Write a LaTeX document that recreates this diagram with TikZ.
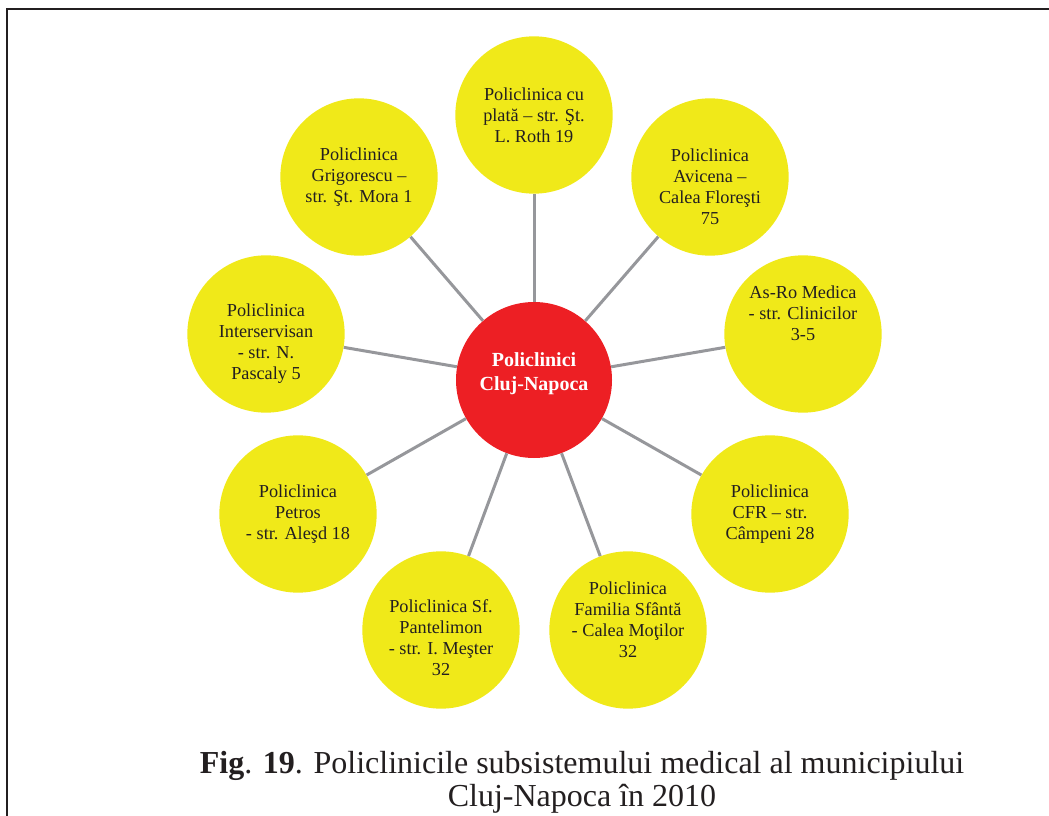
\documentclass[tikz,border=0pt]{standalone}
\usepackage{fontspec}
\setmainfont{Liberation Serif}
\usepackage{tikz}

\definecolor{clinicyellow}{RGB}{240,233,25}
\definecolor{hubred}{RGB}{237,31,36}
\definecolor{spokegray}{RGB}{150,151,155}
\definecolor{inkdark}{RGB}{35,31,32}

\begin{document}
\begin{tikzpicture}[x = 0.75pt, y = -0.75pt,
  clinic/.style = {circle, fill=clinicyellow, text=inkdark, minimum size=118pt, inner sep=0pt,
    align=center, font=\fontsize{13.7}{15.75}\selectfont},
  hub/.style = {circle, fill=hubred, text=white, minimum size=117pt, inner sep=0pt,
    align=center, font=\fontsize{15}{18}\selectfont\bfseries},
  spoke/.style = {draw=spokegray, line width=2.25pt}]

\useasboundingbox (0, 0) rectangle (1049, 816);

% frame, left and top only
\draw[line width=1.5pt, inkdark] (7, 816) -- (7, 9) -- (1049, 9);

\node[hub] (hub) at (534, 380) {Policlinici\\Cluj-Napoca\rule[-12pt]{0pt}{12pt}};

\node[clinic] (roth) at (534, 115) {Policlinica cu\\plată – str. Şt.\\L. Roth 19};
\node[clinic] (avicena) at (710, 177) {\rule{0pt}{23.5pt}Policlinica\\Avicena –\\Calea Floreşti\\75};
\node[clinic] (asro) at (803, 334) {As-Ro Medica\\- str. Clinicilor\\3-5\\\mbox{}\\\mbox{}};
\node[clinic] (cfr) at (770, 514) {Policlinica\\CFR – str.\\Câmpeni 28};
\node[clinic] (familia) at (628, 630) {Policlinica\\Familia Sfântă\\- Calea Moţilor\\32\\\mbox{}};
\node[clinic] (pantelimon) at (441, 630) {\rule{0pt}{20.5pt}Policlinica Sf.\\Pantelimon\\- str. I. Meşter\\32};
\node[clinic] (petros) at (298, 514) {Policlinica\\Petros\\- str. Aleşd 18};
\node[clinic] (interservisan) at (266, 334) {\rule{0pt}{24pt}Policlinica\\Interservisan\\- str. N.\\Pascaly 5};
\node[clinic] (grigorescu) at (359, 177) {Policlinica\\Grigorescu –\\str. Şt. Mora 1};

\draw[spoke] (hub) -- (roth);
\draw[spoke] (hub) -- (avicena);
\draw[spoke] (hub) -- (asro);
\draw[spoke] (hub) -- (cfr);
\draw[spoke] (hub) -- (familia);
\draw[spoke] (hub) -- (pantelimon);
\draw[spoke] (hub) -- (petros);
\draw[spoke] (hub) -- (interservisan);
\draw[spoke] (hub) -- (grigorescu);

\node[align=center, inner sep=0pt, anchor=base, text=inkdark,
  font=\fontsize{24}{24.75}\selectfont] (caption) at (582, 806)
  {\textbf{Fig}. \textbf{19}. Policlinicile subsistemului medical al municipiului\\Cluj-Napoca în 2010};
\end{tikzpicture}
\end{document}
